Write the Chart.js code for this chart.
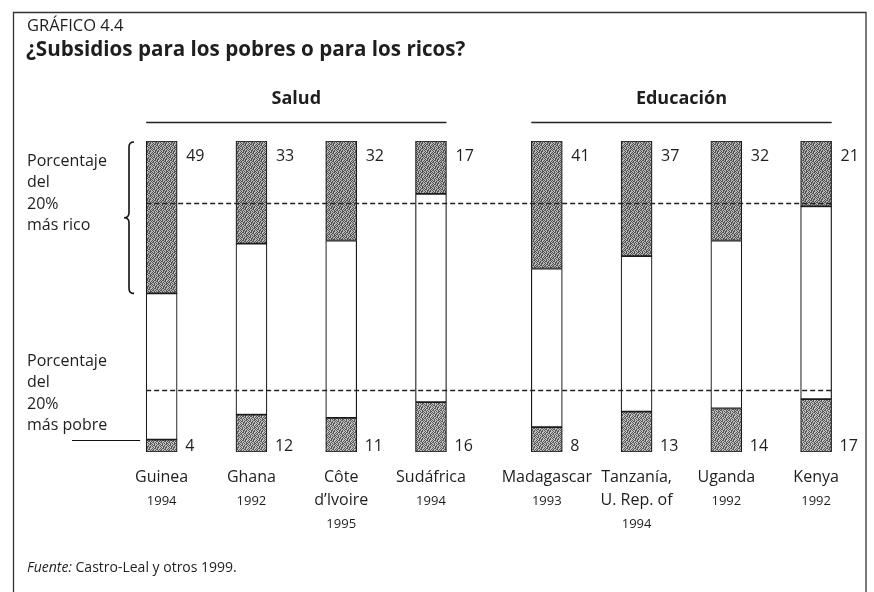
<!DOCTYPE html>
<html><head><meta charset="utf-8">
<script src="https://cdn.jsdelivr.net/npm/chart.js@4.4.1/dist/chart.umd.min.js"></script>
<style>html,body{margin:0;padding:0;background:#fff}#c{display:block}</style>
</head><body>
<canvas id="c" width="874" height="592"></canvas>
<script>
// Share of public subsidies received by the richest and poorest 20%
const countries = ['Guinea', 'Ghana', 'Côte\nd’Ivoire', 'Sudáfrica', 'Madagascar', 'Tanzanía,\nU. Rep. of', 'Uganda', 'Kenya'];
const years = ['1994', '1992', '1995', '1994', '1993', '1994', '1992', '1992'];
const sectors = ['Salud', 'Salud', 'Salud', 'Salud', 'Educación', 'Educación', 'Educación', 'Educación'];
const richShare = [49, 33, 32, 17, 41, 37, 32, 21];
const poorShare = [4, 12, 11, 16, 8, 13, 14, 17];
const quintileMarks = [20, 80];

// extra space between the two sector groups, in bar slots
const GROUP_GAP = 0.29;
const groupNames = [...new Set(sectors)];
const slots = countries.map((_, i) => i + groupNames.indexOf(sectors[i]) * GROUP_GAP);
const middleShare = richShare.map((r, i) => 100 - r - poorShare[i]);

const canvas = document.getElementById('c');
const ctx = canvas.getContext('2d');

// stippled grey screen used for the shaded segments
const STIPPLE = [
  '#.##.#..',
  '.#..##.#',
  '##.#..#.',
  '..#.#.##',
  '#.#..##.',
  '.##.#..#',
  '#..##.#.',
  '.#.#.##.'
];
function texture(dark, light) {
  const t = document.createElement('canvas');
  t.width = t.height = 8;
  const g = t.getContext('2d');
  STIPPLE.forEach((row, r) => [...row].forEach((ch, k) => {
    g.fillStyle = ch === '#' ? dark : light;
    g.fillRect(k, r, 1, 1);
  }));
  return ctx.createPattern(t, 'repeat');
}
const richFill = texture('#505050', '#b8b8b8');
const poorFill = texture('#585858', '#c2c2c2');

const FONT = '"Open Sans", "Noto Sans", sans-serif';
const INK = '#1e1e1e';

const decorations = {
  id: 'decorations',
  afterDraw(chart) {
    const { ctx: c, scales: { x, y } } = chart;
    const half = 15.5;
    c.save();

    // frame
    c.strokeStyle = '#333'; c.lineWidth = 1.3;
    c.beginPath();
    c.moveTo(13.5, 592); c.lineTo(13.5, 12.5); c.lineTo(866, 12.5); c.lineTo(866, 592);
    c.stroke();

    // heading
    c.fillStyle = INK; c.textBaseline = 'middle'; c.textAlign = 'left';
    c.font = '16.5px ' + FONT;
    c.fillText('GRÁFICO 4.4', 27, 26);
    c.font = 'bold 20.6px ' + FONT;
    c.fillText('¿Subsidios para los pobres o para los ricos?', 26, 50);

    // quintile reference lines
    const x0 = x.getPixelForValue(slots[0]) - half;
    const x1 = x.getPixelForValue(slots[slots.length - 1]) + half;
    c.setLineDash([5, 3]); c.lineWidth = 1.3; c.strokeStyle = '#222';
    quintileMarks.forEach(v => {
      const yy = Math.round(y.getPixelForValue(v)) + 0.5;
      c.beginPath(); c.moveTo(x0, yy); c.lineTo(x1, yy); c.stroke();
    });
    c.setLineDash([]);

    // sector headers
    groupNames.forEach(name => {
      const idx = slots.filter((_, i) => sectors[i] === name);
      const a = x.getPixelForValue(idx[0]) - half;
      const b = x.getPixelForValue(idx[idx.length - 1]) + half;
      c.strokeStyle = '#222'; c.lineWidth = 1.3;
      c.beginPath(); c.moveTo(a, 122.5); c.lineTo(b, 122.5); c.stroke();
      c.font = 'bold 18px ' + FONT; c.textAlign = 'center';
      c.fillText(name, (a + b) / 2, 99);
    });

    // value labels
    c.font = '16px ' + FONT; c.textAlign = 'left';
    slots.forEach((s, i) => {
      const px = x.getPixelForValue(s) + half + 9;
      c.fillText(String(richShare[i]), px, y.getPixelForValue(100) + 15);
      c.fillText(String(poorShare[i]), px - 1, y.getPixelForValue(0) - 6);
    });

    // category labels
    slots.forEach((s, i) => {
      const px = x.getPixelForValue(s);
      const lines = countries[i].split('\n');
      c.textAlign = 'center';
      c.font = '16px ' + FONT;
      lines.forEach((t, k) => c.fillText(t, px, 477 + k * 23));
      c.font = '13px ' + FONT;
      c.fillText(years[i], px, 477 + (lines.length - 1) * 23 + 24);
    });

    // side notes
    c.textAlign = 'left'; c.font = '16px ' + FONT;
    ['Porcentaje', 'del', '20%', 'más rico'].forEach((t, k) => c.fillText(t, 27, 161 + k * 21.5));
    ['Porcentaje', 'del', '20%', 'más pobre'].forEach((t, k) => c.fillText(t, 27, 361 + k * 21.5));

    // brace spanning the richest share of the first bar
    const top = y.getPixelForValue(100) + 1;
    const bot = y.getPixelForValue(100 - richShare[0]);
    const mid = (top + bot) / 2;
    const bx = 129, r = 5;
    c.strokeStyle = '#111'; c.lineWidth = 1.6;
    c.beginPath();
    c.moveTo(bx + r, top);
    c.quadraticCurveTo(bx, top, bx, top + r);
    c.lineTo(bx, mid - r);
    c.quadraticCurveTo(bx, mid, bx - r, mid);
    c.quadraticCurveTo(bx, mid, bx, mid + r);
    c.lineTo(bx, bot - r);
    c.quadraticCurveTo(bx, bot, bx + r, bot);
    c.stroke();

    // leader line to the poorest share
    const ly = Math.round(y.getPixelForValue(poorShare[0])) + 0.5;
    c.lineWidth = 1.2;
    c.beginPath(); c.moveTo(72, ly); c.lineTo(x0 - 6, ly); c.stroke();

    // source
    c.font = 'italic 14px ' + FONT; c.textAlign = 'left';
    c.fillText('Fuente:', 27, 568);
    const w = c.measureText('Fuente:').width;
    c.font = '14px ' + FONT;
    c.fillText(' Castro-Leal y otros 1999.', 27 + w, 568);
    c.restore();
  }
};

const barStyle = { barThickness: 31, borderWidth: 1.2, borderColor: '#1b1b1b', borderSkipped: false };

new Chart(ctx, {
  type: 'bar',
  data: {
    datasets: [
      { label: '20% más pobre', data: slots.map((s, i) => ({ x: s, y: poorShare[i] })), backgroundColor: poorFill, ...barStyle },
      { label: 'resto', data: slots.map((s, i) => ({ x: s, y: middleShare[i] })), backgroundColor: '#ffffff', ...barStyle },
      { label: '20% más rico', data: slots.map((s, i) => ({ x: s, y: richShare[i] })), backgroundColor: richFill, ...barStyle }
    ]
  },
  options: {
    responsive: false,
    animation: false,
    layout: { padding: { left: 27, right: 13, top: 141, bottom: 140 } },
    scales: {
      x: { type: 'linear', min: -1.5, max: 7.79, offset: false, stacked: true, display: false },
      y: { min: 0, max: 100, stacked: true, display: false }
    },
    plugins: { legend: { display: false }, tooltip: { enabled: false } }
  },
  plugins: [decorations]
});
</script>
</body></html>
